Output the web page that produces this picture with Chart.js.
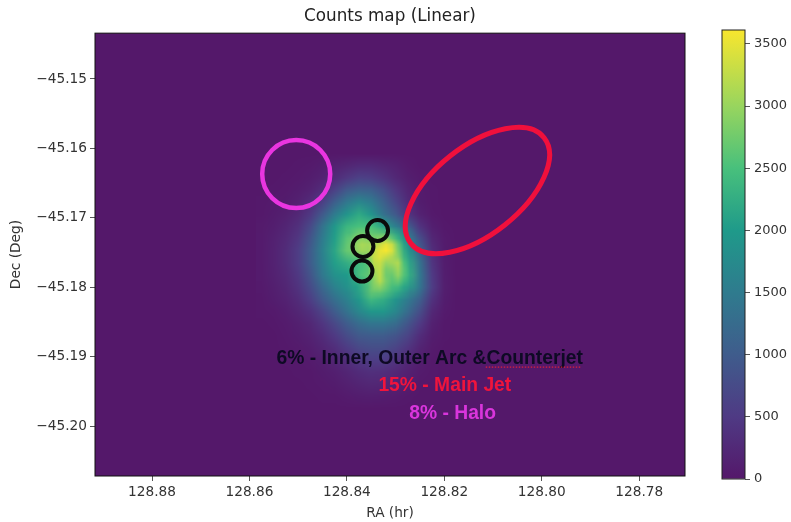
<!DOCTYPE html>
<html>
<head>
<meta charset="utf-8">
<title>Counts map</title>
<script src="https://cdn.jsdelivr.net/npm/chart.js@4"></script>
<style>
  html, body { margin: 0; padding: 0; background: #fff; }
  #wrap { position: relative; width: 791px; height: 522px; overflow: hidden; }
  canvas { position: absolute; top: 0; }
  #mapChart { left: 0; }
  #barChart { left: 700px; }
</style>
</head>
<body>
<div id="wrap">
  <canvas id="mapChart" width="780" height="522"></canvas>
  <canvas id="barChart" width="91" height="522"></canvas>
</div>
<script>
// axis ticks
const raTicks = [128.88, 128.86, 128.84, 128.82, 128.80, 128.78];
const decTicks = [-45.15, -45.16, -45.17, -45.18, -45.19, -45.20];
const barTicks = [0, 500, 1000, 1500, 2000, 2500, 3000, 3500];

// centres of the wide counts grid, RA columns and Dec rows
const cellRa = [128.8575, 128.855, 128.8525, 128.85, 128.8475, 128.845, 128.8425, 128.84, 128.8375,
  128.835, 128.8325, 128.83, 128.8275, 128.825, 128.8225, 128.82, 128.8175];
const cellDec = [-45.16075, -45.1625, -45.16425, -45.166, -45.16775, -45.1695, -45.17125, -45.173,
  -45.17475, -45.1765, -45.17825, -45.18, -45.18175, -45.1835, -45.18525, -45.187,
  -45.18875, -45.1905, -45.19225, -45.194, -45.19575, -45.1975];

// counts, one row per Dec
const rowTop = [0, 0, 0, 0, 0, 0, 0, 0, 0, 0, 0, 0, 0, 0, 0, 0, 0];
const row00 = [0, 0, 0, 10, 30, 70, 130, 200, 270, 270, 200, 130, 40, 0, 0, 0, 0];
const row01 = [0, 0, 10, 30, 70, 150, 280, 450, 600, 560, 410, 240, 100, 30, 0, 0, 0];
const row02 = [0, 10, 30, 70, 150, 310, 600, 950, 1100, 1050, 800, 450, 190, 50, 10, 0, 0];
const row03 = [10, 30, 60, 130, 290, 580, 1050, 1450, 1700, 1500, 1100, 680, 280, 80, 20, 0, 0];
const row04 = [20, 60, 120, 240, 470, 950, 1500, 1900, 2200, 1900, 1350, 950, 430, 150, 30, 0, 0];
const row05 = [40, 90, 190, 350, 720, 1350, 1950, 2350, 2500, 2500, 2100, 1550, 1050, 400, 110, 20, 0];
const row06 = [50, 130, 250, 450, 900, 1500, 2050, 2600, 2950, 2800, 2900, 2300, 1600, 800, 220, 50, 0];
const row07 = [50, 150, 290, 540, 1000, 1600, 2150, 2700, 3050, 3250, 3600, 3000, 2000, 1100, 330, 60, 0];
const row08 = [50, 150, 290, 540, 1000, 1550, 2050, 2250, 2600, 3250, 3000, 3000, 2300, 1350, 430, 70, 0];
const row09 = [50, 130, 250, 470, 880, 1450, 1850, 2000, 2550, 3250, 2750, 2900, 2450, 1450, 500, 90, 0];
const row10 = [30, 100, 200, 390, 740, 1200, 1600, 1850, 2300, 2950, 2700, 2400, 2150, 1400, 540, 100, 0];
const row11 = [20, 70, 150, 290, 560, 950, 1300, 1600, 1950, 2400, 2250, 1900, 1500, 1050, 380, 80, 0];
const row12 = [10, 30, 90, 200, 360, 640, 1000, 1350, 1700, 1950, 1950, 1700, 1250, 780, 240, 50, 0];
const row13 = [0, 20, 50, 120, 220, 420, 700, 1000, 1250, 1400, 1400, 1250, 900, 500, 130, 20, 0];
const row14 = [0, 0, 30, 70, 150, 280, 480, 750, 950, 1000, 1000, 880, 640, 300, 80, 10, 0];
const row15 = [0, 0, 20, 40, 90, 190, 320, 520, 700, 780, 780, 640, 420, 180, 40, 0, 0];
const row16 = [0, 0, 10, 20, 50, 100, 200, 330, 470, 560, 540, 420, 240, 100, 20, 0, 0];
const row17 = [0, 0, 0, 10, 20, 60, 110, 190, 280, 340, 330, 240, 130, 50, 10, 0, 0];
const row18 = [0, 0, 0, 0, 10, 30, 60, 120, 180, 220, 200, 150, 70, 20, 0, 0, 0];
const row19 = [0, 0, 0, 0, 0, 10, 20, 50, 80, 90, 80, 50, 20, 0, 0, 0, 0];
const row20 = [0, 0, 0, 0, 0, 0, 0, 0, 0, 0, 0, 0, 0, 0, 0, 0, 0];
const countRows = [rowTop, row00, row01, row02, row03, row04, row05, row06, row07, row08, row09, row10,
  row11, row12, row13, row14, row15, row16, row17, row18, row19, row20];

// finer grid over the bright core
const coreRa = [128.8406, 128.8394, 128.8381, 128.8369, 128.8357, 128.8344, 128.8332, 128.832,
  128.8308, 128.8295, 128.8283, 128.8271, 128.8258];
const coreDec = [-45.17125, -45.17213, -45.173, -45.17388, -45.17475, -45.17563, -45.1765,
  -45.17738, -45.17825, -45.17913, -45.18, -45.18088, -45.18175];
const core00 = [2000, 2200, 2400, 2500, 2500, 2500, 2450, 2300, 2150, 1900, 1500, 1100, 700];
const core01 = [2100, 2350, 2600, 2700, 2650, 2600, 2550, 2450, 2300, 2100, 1700, 1300, 800];
const core02 = [2300, 2600, 2800, 2900, 2850, 2800, 2900, 3000, 2700, 2300, 1900, 1450, 900];
const core03 = [2350, 2700, 2950, 3100, 3050, 3100, 3300, 3500, 3300, 2700, 2100, 1600, 1000];
const core04 = [2300, 2600, 2900, 3050, 3000, 3250, 3500, 3600, 3400, 2800, 2200, 1700, 1100];
const core05 = [2200, 2450, 2600, 2750, 2900, 3300, 3450, 3300, 3150, 2900, 2300, 1800, 1200];
const core06 = [2050, 2250, 2350, 2450, 2600, 3250, 3300, 3000, 3050, 3150, 2500, 1900, 1250];
const core07 = [1950, 2100, 2300, 2500, 2600, 3150, 3250, 2800, 2850, 3050, 2600, 2000, 1300];
const core08 = [1850, 2000, 2300, 2550, 2650, 3000, 3250, 2750, 2700, 2950, 2550, 2000, 1300];
const core09 = [1750, 1900, 2150, 2350, 2550, 2900, 3200, 2800, 2600, 2700, 2350, 1900, 1250];
const core10 = [1650, 1800, 2000, 2200, 2400, 2800, 2950, 2700, 2450, 2400, 2100, 1700, 1100];
const core11 = [1500, 1650, 1850, 2050, 2300, 2550, 2650, 2500, 2300, 2100, 1800, 1400, 950];
const core12 = [1300, 1450, 1650, 1900, 2150, 2350, 2400, 2250, 2050, 1800, 1450, 1100, 750];
const coreRows = [core00, core01, core02, core03, core04, core05, core06, core07, core08, core09,
  core10, core11, core12];

// colour map as it looks on the bar
const cmapValues = [0, 500, 1000, 1500, 2000, 2500, 3000, 3612];
const cmapColors = ["#54186a", "#4f3a84", "#3f5c8c", "#2f7b8e", "#1f9a8a", "#48c07c", "#98d55e", "#f8e62e"];
const countMax = 3612;

// regions on the sky, sizes in degrees of Dec
const regionRa = [128.8504, 128.8132, 128.8337, 128.8367, 128.8369];
const regionDec = [-45.1637, -45.16607, -45.17183, -45.17414, -45.17768];
const regionMajor = [0.0049, 0.01225, 0.00151, 0.00151, 0.00151];
const regionMinor = [0.0049, 0.00634, 0.00151, 0.00151, 0.00151];
const regionAngle = [0, -38.4, 0, 0, 0];
const regionColor = ["#e935e0", "#f0103c", "#0a0a0a", "#0a0a0a", "#0a0a0a"];
const regionWidth = [4.5, 5, 4, 4, 4];

// notes written on the map
const noteText = ["6% - Inner, Outer Arc &Counterjet", "15% - Main Jet", "8% - Halo"];
const noteRa = [128.8230, 128.8199, 128.8183];
const noteDec = [-45.19035, -45.19425, -45.19825];
const noteColor = ["#0e0a24", "#f0143c", "#d935dc"];

function hexRgb(hex) {
  return [1, 3, 5].map(i => parseInt(hex.slice(i, i + 2), 16));
}

function countColor(v) {
  let i = 0;
  while (i < cmapValues.length - 2 && v > cmapValues[i + 1]) i++;
  const t = Math.min(1, (v - cmapValues[i]) / (cmapValues[i + 1] - cmapValues[i]));
  const a = hexRgb(cmapColors[i]);
  const b = hexRgb(cmapColors[i + 1]);
  return a.map((c, k) => Math.round(c + (b[k] - c) * t));
}

// one small image pixel per cell, the browser smooths it when scaled up
function drawCells(chart, raList, decList, rowList, feather) {
  const { ctx, scales } = chart;
  const cols = raList.length, rows = decList.length;
  const tmp = document.createElement("canvas");
  tmp.width = cols;
  tmp.height = rows;
  const tctx = tmp.getContext("2d");
  const img = tctx.createImageData(cols, rows);
  rowList.forEach((row, j) => {
    row.forEach((v, i) => {
      const c = countColor(v);
      const p = (j * cols + i) * 4;
      const ring = Math.min(i, j, cols - 1 - i, rows - 1 - j);
      img.data[p] = c[0];
      img.data[p + 1] = c[1];
      img.data[p + 2] = c[2];
      img.data[p + 3] = feather ? Math.min(255, ring * 100) : 255;
    });
  });
  tctx.putImageData(img, 0, 0);

  const x0 = scales.x.getPixelForValue(raList[0]);
  const x1 = scales.x.getPixelForValue(raList[cols - 1]);
  const y0 = scales.y.getPixelForValue(decList[0]);
  const y1 = scales.y.getPixelForValue(decList[rows - 1]);
  const cw = (x1 - x0) / (cols - 1);
  const ch = (y1 - y0) / (rows - 1);
  ctx.imageSmoothingEnabled = true;
  ctx.imageSmoothingQuality = "medium";
  ctx.drawImage(tmp, x0 - cw / 2, y0 - ch / 2, cw * cols, ch * rows);
}

const heatmapPlugin = {
  id: "heatmap",
  beforeDatasetsDraw(chart) {
    const { ctx, chartArea } = chart;
    ctx.save();
    ctx.fillStyle = cmapColors[0];
    ctx.fillRect(chartArea.left, chartArea.top, chartArea.width, chartArea.height);
    drawCells(chart, cellRa, cellDec, countRows, false);
    drawCells(chart, coreRa, coreDec, coreRows, true);
    ctx.restore();
  },
  afterDatasetsDraw(chart) {
    const { ctx, chartArea, scales } = chart;
    const degToPx = Math.abs(scales.y.getPixelForValue(-45.15) - scales.y.getPixelForValue(-45.16)) / 0.01;
    ctx.save();
    regionRa.forEach((ra, i) => {
      ctx.beginPath();
      ctx.ellipse(scales.x.getPixelForValue(ra), scales.y.getPixelForValue(regionDec[i]),
        regionMajor[i] * degToPx, regionMinor[i] * degToPx,
        regionAngle[i] * Math.PI / 180, 0, Math.PI * 2);
      ctx.strokeStyle = regionColor[i];
      ctx.lineWidth = regionWidth[i];
      ctx.stroke();
    });

    ctx.font = "bold 19.3px 'Liberation Sans'";
    ctx.textAlign = "center";
    ctx.textBaseline = "middle";
    noteText.forEach((t, i) => {
      ctx.fillStyle = noteColor[i];
      ctx.fillText(t, scales.x.getPixelForValue(noteRa[i]), scales.y.getPixelForValue(noteDec[i]));
    });

    // spell-check dots under the last word of the first note
    ctx.strokeStyle = "#d8203c";
    ctx.lineWidth = 1.2;
    ctx.setLineDash([1.5, 1.5]);
    ctx.beginPath();
    ctx.moveTo(scales.x.getPixelForValue(128.8115), scales.y.getPixelForValue(-45.1915));
    ctx.lineTo(scales.x.getPixelForValue(128.7918), scales.y.getPixelForValue(-45.1915));
    ctx.stroke();
    ctx.setLineDash([]);

    // frame
    ctx.strokeStyle = "#111";
    ctx.lineWidth = 1;
    ctx.strokeRect(chartArea.left, chartArea.top, chartArea.width, chartArea.height);
    ctx.restore();
  }
};

const tickFont = { family: "'DejaVu Sans'", size: 13.7 };
const textColor = "#333";

new Chart(document.getElementById("mapChart"), {
  type: "scatter",
  data: {
    datasets: [{
      label: "Counts",
      data: regionRa.map((ra, i) => ({ x: ra, y: regionDec[i] })),
      pointRadius: 0
    }]
  },
  options: {
    responsive: false,
    animation: false,
    plugins: {
      legend: { display: false },
      tooltip: { enabled: false },
      title: {
        display: true,
        text: "Counts map (Linear)",
        color: "#222",
        font: { family: "'DejaVu Sans'", size: 16.8, weight: "normal" },
        padding: { top: 7, bottom: 6 }
      }
    },
    scales: {
      x: {
        type: "linear",
        reverse: true,
        min: 128.7706,
        max: 128.8917,
        afterBuildTicks: s => { s.ticks = raTicks.map(v => ({ value: v })); },
        afterFit: s => { s.height = 46; },
        grid: { drawOnChartArea: false, tickLength: 5, color: "#555" },
        border: { display: false },
        ticks: {
          color: textColor,
          font: tickFont,
          padding: 3,
          maxRotation: 0,
          callback: v => v.toFixed(2)
        },
        title: { display: true, text: "RA (hr)", color: textColor, font: tickFont, padding: { top: 5, bottom: 0 } }
      },
      y: {
        type: "linear",
        min: -45.2072,
        max: -45.1434,
        afterBuildTicks: s => { s.ticks = decTicks.map(v => ({ value: v })); },
        afterFit: s => { s.width = 95; },
        grid: { drawOnChartArea: false, tickLength: 5, color: "#555" },
        border: { display: false },
        ticks: {
          color: textColor,
          font: tickFont,
          padding: 3,
          callback: v => "\u2212" + Math.abs(v).toFixed(2)
        },
        title: { display: true, text: "Dec (Deg)", color: textColor, font: tickFont, padding: { top: 8, bottom: 0 } }
      },
      // keeps the title centred over the map
      spacer: {
        type: "linear",
        position: "right",
        afterFit: s => { s.width = 95; },
        grid: { display: false },
        border: { display: false },
        ticks: { display: false }
      }
    }
  },
  plugins: [heatmapPlugin]
});

new Chart(document.getElementById("barChart"), {
  type: "bar",
  data: {
    labels: ["Counts"],
    datasets: [{
      data: [[0, countMax]],
      barPercentage: 1,
      categoryPercentage: 1,
      borderWidth: 0,
      backgroundColor(context) {
        const { chartArea, scales } = context.chart;
        if (!chartArea) return cmapColors[0];
        const g = context.chart.ctx.createLinearGradient(0, scales.y.getPixelForValue(0), 0, scales.y.getPixelForValue(countMax));
        cmapValues.forEach((v, i) => g.addColorStop(v / countMax, cmapColors[i]));
        return g;
      }
    }]
  },
  options: {
    responsive: false,
    animation: false,
    layout: { padding: { left: 22, right: 0, top: 30, bottom: 43 } },
    plugins: { legend: { display: false }, tooltip: { enabled: false } },
    scales: {
      x: { display: false },
      y: {
        position: "right",
        min: 0,
        max: countMax,
        afterBuildTicks: s => { s.ticks = barTicks.map(v => ({ value: v })); },
        afterFit: s => { s.width = 46; },
        grid: { drawOnChartArea: false, tickLength: 5, color: "#555" },
        border: { display: false },
        ticks: { color: textColor, font: { family: "'DejaVu Sans'", size: 13 }, padding: 4, callback: v => String(v) }
      }
    }
  },
  plugins: [{
    id: "barFrame",
    afterDatasetsDraw(chart) {
      const { ctx, chartArea } = chart;
      ctx.save();
      ctx.strokeStyle = "#222";
      ctx.lineWidth = 1;
      ctx.strokeRect(chartArea.left, chartArea.top, chartArea.width, chartArea.height);
      ctx.restore();
    }
  }]
});
</script>
</body>
</html>
